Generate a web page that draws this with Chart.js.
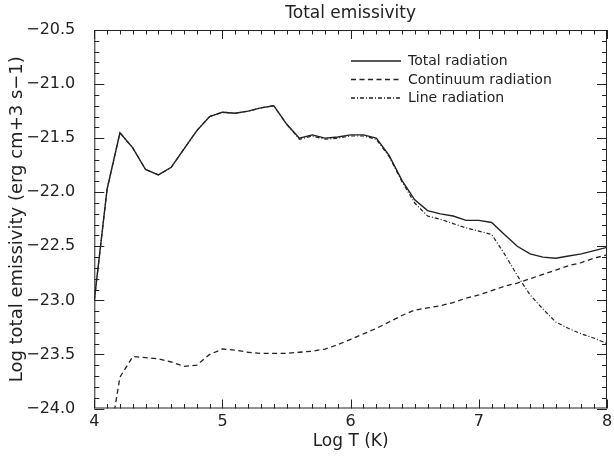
<!DOCTYPE html>
<html>
<head>
<meta charset="utf-8">
<title>Total emissivity</title>
<script src="https://cdn.jsdelivr.net/npm/chart.js@4.4.1/dist/chart.umd.min.js"></script>
<style>
  html, body { margin: 0; padding: 0; background: #fff; }
  #wrap { width: 614px; height: 457px; }
</style>
</head>
<body>
<div id="wrap"><canvas id="chart" width="614" height="457"></canvas></div>
<script>
// Log T grid (K)
const logT = [4.0, 4.1, 4.2, 4.3, 4.4, 4.5, 4.6, 4.7, 4.8, 4.9,
              5.0, 5.1, 5.2, 5.3, 5.4, 5.5, 5.6, 5.7, 5.8, 5.9,
              6.0, 6.1, 6.2, 6.3, 6.4, 6.5, 6.6, 6.7, 6.8, 6.9,
              7.0, 7.1, 7.2, 7.3, 7.4, 7.5, 7.6, 7.7, 7.8, 7.9,
              8.0];

// log emissivity (erg cm+3 s-1)
const totalRad = [-23.00, -21.97, -21.45, -21.59, -21.79, -21.84, -21.77, -21.60, -21.43, -21.30,
                  -21.26, -21.27, -21.25, -21.22, -21.20, -21.37, -21.50, -21.47, -21.50, -21.49,
                  -21.47, -21.47, -21.50, -21.66, -21.89, -22.07, -22.17, -22.20, -22.22, -22.26,
                  -22.26, -22.28, -22.39, -22.50, -22.57, -22.60, -22.61, -22.59, -22.57, -22.54,
                  -22.51];

const contRad = [-25.50, -24.43, -23.71, -23.52, -23.53, -23.54, -23.57, -23.61, -23.60, -23.50,
                 -23.45, -23.46, -23.48, -23.49, -23.49, -23.49, -23.48, -23.47, -23.45, -23.41,
                 -23.36, -23.31, -23.26, -23.20, -23.14, -23.09, -23.07, -23.05, -23.02, -22.98,
                 -22.95, -22.91, -22.87, -22.84, -22.80, -22.76, -22.72, -22.68, -22.65, -22.61,
                 -22.58];

const lineRad = [-23.00, -21.97, -21.45, -21.59, -21.79, -21.84, -21.77, -21.60, -21.43, -21.30,
                 -21.26, -21.27, -21.25, -21.22, -21.20, -21.37, -21.51, -21.48, -21.51, -21.50,
                 -21.48, -21.48, -21.51, -21.67, -21.90, -22.10, -22.22, -22.25, -22.29, -22.33,
                 -22.36, -22.39, -22.57, -22.77, -22.95, -23.08, -23.20, -23.26, -23.31, -23.35,
                 -23.40];

const seriesNames = ['Total radiation', 'Continuum radiation', 'Line radiation'];
const seriesDash = [[], [5, 3.5], [4, 2, 1, 2]];
const chartTitle = 'Total emissivity';

const INK = '#222';
const FONT = 'DejaVu Sans';

const toXY = (ys) => logT.map((t, i) => ({ x: t, y: ys[i] }));
const minus = (v) => (v < 0 ? '\u2212' : '') + Math.abs(v).toFixed(1);

// IDL style box with inward ticks on all four sides, title and legend
const boxTicks = {
    id: 'boxTicks',
    afterDatasetsDraw(chart) {
        const { ctx, chartArea: a, scales: { x, y } } = chart;
        ctx.save();
        ctx.strokeStyle = INK;
        ctx.lineWidth = 1;
        ctx.strokeRect(a.left + 0.5, a.top + 0.5, a.width - 1, a.height - 1);
        ctx.beginPath();
        for (let k = 40; k <= 80; k++) {
            const px = Math.round(x.getPixelForValue(k / 10)) + 0.5;
            const len = k % 10 === 0 ? 9 : 4.5;
            ctx.moveTo(px, a.bottom); ctx.lineTo(px, a.bottom - len);
            ctx.moveTo(px, a.top); ctx.lineTo(px, a.top + len);
        }
        for (let k = -240; k <= -205; k++) {
            const py = Math.round(y.getPixelForValue(k / 10)) + 0.5;
            const len = k % 5 === 0 ? 10 : 5;
            ctx.moveTo(a.left, py); ctx.lineTo(a.left + len, py);
            ctx.moveTo(a.right, py); ctx.lineTo(a.right - len, py);
        }
        ctx.stroke();
        ctx.restore();
    },
    afterDraw(chart) {
        const { ctx, chartArea: a } = chart;
        ctx.save();
        ctx.fillStyle = INK;
        ctx.textBaseline = 'middle';

        // title centred over the plot box
        ctx.font = '17px "' + FONT + '"';
        ctx.textAlign = 'center';
        ctx.fillText(chartTitle, (a.left + a.right) / 2, 14);

        // legend in the upper right
        ctx.font = '14px "' + FONT + '"';
        ctx.textAlign = 'left';
        const rows = [61, 79.5, 98];
        seriesNames.forEach((name, i) => {
            ctx.beginPath();
            ctx.setLineDash(seriesDash[i]);
            ctx.strokeStyle = INK;
            ctx.lineWidth = 1.3;
            ctx.moveTo(351, rows[i]);
            ctx.lineTo(401, rows[i]);
            ctx.stroke();
            ctx.setLineDash([]);
            ctx.fillText(name, 408, rows[i] + 0.5);
        });
        ctx.restore();
    }
};

new Chart(document.getElementById('chart'), {
    type: 'line',
    data: {
        datasets: [
            {
                label: seriesNames[2],
                data: toXY(lineRad),
                borderColor: INK,
                borderWidth: 1.2,
                borderDash: seriesDash[2],
                pointRadius: 0,
                tension: 0,
            },
            {
                label: seriesNames[1],
                data: toXY(contRad),
                borderColor: INK,
                borderWidth: 1.3,
                borderDash: seriesDash[1],
                pointRadius: 0,
                tension: 0,
            },
            {
                label: seriesNames[0],
                data: toXY(totalRad),
                borderColor: INK,
                borderWidth: 1.4,
                pointRadius: 0,
                tension: 0,
            },
        ],
    },
    options: {
        responsive: false,
        animation: false,
        layout: { padding: { top: 30, right: 7, bottom: 0, left: 0 } },
        scales: {
            x: {
                type: 'linear',
                min: 4,
                max: 8,
                grid: { display: false },
                border: { display: false },
                ticks: {
                    stepSize: 1,
                    padding: -4,
                    color: INK,
                    font: { family: FONT, size: 16 },
                    maxRotation: 0,
                },
                title: {
                    display: true,
                    text: 'Log T (K)',
                    color: INK,
                    font: { family: FONT, size: 17 },
                    padding: { top: 0, bottom: 5 },
                },
                afterFit: (scale) => { scale.height = 48.5; },
            },
            y: {
                type: 'linear',
                min: -24,
                max: -20.5,
                grid: { display: false },
                border: { display: false },
                ticks: {
                    stepSize: 0.5,
                    padding: 11,
                    color: INK,
                    font: { family: FONT, size: 16 },
                    callback: (v) => minus(v),
                },
                title: {
                    display: true,
                    text: 'Log total emissivity (erg cm+3 s\u22121)',
                    color: INK,
                    font: { family: FONT, size: 18 },
                    padding: { top: 7, bottom: 0 },
                },
                afterFit: (scale) => { scale.width = 94.3; },
            },
        },
        plugins: {
            legend: { display: false },
            tooltip: { enabled: false },
            title: { display: false },
        },
    },
    plugins: [boxTicks],
});
</script>
</body>
</html>
